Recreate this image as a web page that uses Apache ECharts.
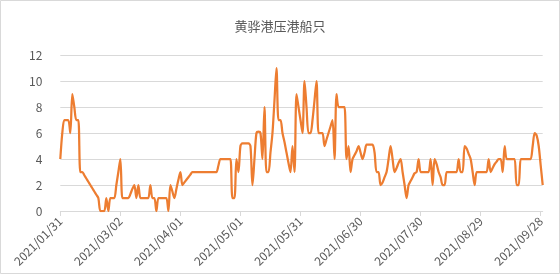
<!DOCTYPE html>
<html>
<head>
<meta charset="utf-8">
<script src="https://cdn.jsdelivr.net/npm/echarts@6/dist/echarts.min.js"></script>
<style>
html,body{margin:0;padding:0;background:#fff;}
#chart{width:560px;height:274px;}
</style>
</head>
<body>
<div id="chart"></div>
<script>
var chartTitle = '黄骅港压港船只';
var startDate = '2021-01-31';
var dayCount = 242;
var yTicks = [0, 2, 4, 6, 8, 10, 12];

var ships = [
  4, 6, 7, 7, 7, 6, 9, 8, 7, 7,
  3, 3, 2.75, 2.5, 2.25, 2, 1.75, 1.5, 1.25, 1,
  0, 0, 0, 1, 0, 1, 1, 1, 2, 3,
  4, 1, 1, 1, 1, 1.3, 1.7, 2, 1, 2,
  1, 1, 1, 1, 1, 2, 1, 1, 0, 1,
  1, 1, 1, 1, 0, 2, 1.5, 1, 1.7, 2.4,
  3, 2, 2.2, 2.4, 2.6, 2.8, 3, 3, 3, 3,
  3, 3, 3, 3, 3, 3, 3, 3, 3, 3.5,
  4, 4, 4, 4, 4, 4, 1, 1, 4, 3,
  5, 5.2, 5.2, 5.2, 5.2, 5, 2, 4, 6, 6.1,
  6, 4, 8, 3, 3, 4.5, 6, 8.5, 11, 7,
  7, 6, 5.3, 4.5, 3.7, 3, 5, 3, 9, 8,
  7, 6, 10, 8, 6, 6, 7, 8.5, 10, 6,
  6, 6, 5, 5.5, 6, 6.5, 7, 4, 9, 8,
  8, 8, 8, 4, 5, 3, 4, 4.3, 4.6, 5,
  4.5, 4, 4.5, 5.1, 5.1, 5.1, 5.1, 4.5, 3, 3,
  2, 2.2, 2.6, 3, 4, 5, 4, 3, 3.3, 3.7,
  4, 3, 2, 1, 2, 2.3, 2.6, 2.9, 3, 4,
  3, 3, 3, 3, 3, 4, 2, 4, 3.6, 3,
  2.6, 2, 2, 3, 3, 3, 3, 3, 3, 4,
  3, 3, 5, 4.8, 4.4, 4, 3, 2, 3, 3,
  3, 3, 3, 3, 4, 3, 3.3, 3.6, 3.8, 4,
  4, 3, 5, 4, 4, 4, 4, 4, 2, 2,
  4, 4, 4, 4, 4, 4, 5, 6, 5.8, 5,
  3.5, 2
];

function pad(n){ return (n < 10 ? '0' : '') + n; }
var dates = [];
(function(){
  var p = startDate.split('-');
  var base = Date.UTC(+p[0], +p[1] - 1, +p[2]);
  for (var i = 0; i < dayCount; i++) {
    var d = new Date(base + i * 86400000);
    dates.push(d.getUTCFullYear() + '/' + pad(d.getUTCMonth() + 1) + '/' + pad(d.getUTCDate()));
  }
})();

var font = '"Noto Sans CJK SC", "Noto Sans", sans-serif';
var chart = echarts.init(document.getElementById('chart'), null, {renderer: 'canvas'});
chart.setOption({
  animation: false,
  backgroundColor: '#ffffff',
  graphic: [{
    type: 'rect',
    shape: {x: 0.5, y: 0.5, width: 559, height: 273},
    style: {fill: 'none', stroke: '#d9d9d9', lineWidth: 1},
    silent: true
  }],
  title: {
    text: chartTitle,
    left: 'center',
    top: 15,
    textStyle: {fontFamily: font, fontSize: 13, fontWeight: 'normal', color: '#595959'}
  },
  grid: {left: 60.3, right: 17.3, top: 55, bottom: 63},
  xAxis: {
    type: 'category',
    data: dates,
    boundaryGap: false,
    axisLine: {lineStyle: {color: '#d9d9d9', width: 1}},
    axisTick: {show: true, interval: 29, length: 5, lineStyle: {color: '#d9d9d9'}},
    axisLabel: {interval: 29, rotate: 45, margin: 8, color: '#595959', fontSize: 12, fontFamily: font},
    splitLine: {show: false}
  },
  yAxis: {
    type: 'value',
    min: yTicks[0],
    max: yTicks[yTicks.length - 1],
    interval: yTicks[1] - yTicks[0],
    axisLine: {show: false},
    axisTick: {show: false},
    axisLabel: {margin: 18, color: '#595959', fontSize: 12, fontFamily: font},
    splitLine: {lineStyle: {color: '#d9d9d9', width: 1}}
  },
  series: [{
    type: 'line',
    data: ships,
    showSymbol: false,
    symbol: 'none',
    smooth: 0.3,
    lineStyle: {color: '#ED7D31', width: 2.25},
    itemStyle: {color: '#ED7D31'}
  }]
});
</script>
</body>
</html>
